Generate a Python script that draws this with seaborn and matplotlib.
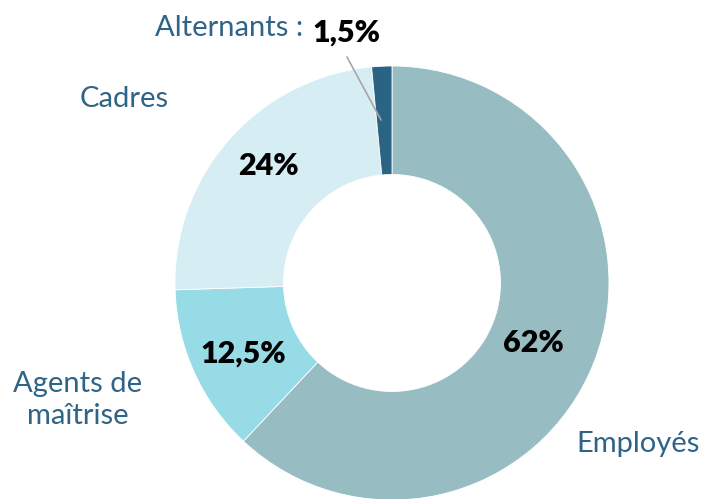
import matplotlib
matplotlib.use("Agg")
import matplotlib.pyplot as plt
import seaborn as sns

# data
categories = ["Employés", "Agents de\nmaîtrise", "Cadres", "Alternants :"]
shares = [62, 12.5, 24, 1.5]
pct_labels = ["62%", "12,5%", "24%", "1,5%"]
colors = ["#97bdc3", "#97dbe6", "#d5edf3", "#2b6385"]

sns.set_style("white")
plt.rcParams["font.family"] = ["Lato", "DejaVu Sans"]

fig = plt.figure(figsize=(7.04, 4.99), dpi=100)
ax = fig.add_axes([0, 0, 1, 1])

cx, cy, r = 392, 499 - 283, 217
ax.pie(shares, colors=colors, startangle=90, counterclock=False,
       center=(cx, cy), radius=r, frame=True,
       wedgeprops=dict(width=r * 0.5, linewidth=0.6, edgecolor="white"))
ax.set_xlim(0, 704)
ax.set_ylim(0, 499)
ax.set_aspect("equal")
ax.axis("off")

lab_col = "#2e6487"
pct_pos = [(533, 343), (243, 354), (268, 166), (346, 33)]
cat_pos = [(638, 444), (78, 400), (124, 99), (229, 28)]
for (px, py), t in zip(pct_pos, pct_labels):
    ax.text(px, 499 - py, t, ha="center", va="center", fontsize=22,
            fontweight="heavy", color="black")
for (px, py), t in zip(cat_pos, categories):
    ax.text(px, 499 - py, t, ha="center", va="center", fontsize=21,
            color=lab_col, linespacing=1.25)

# leader line for Alternants
ax.plot([347, 381], [499 - 57, 499 - 120], color="#a6a6a6", lw=1.2)

fig.savefig("out.png", dpi=100)
